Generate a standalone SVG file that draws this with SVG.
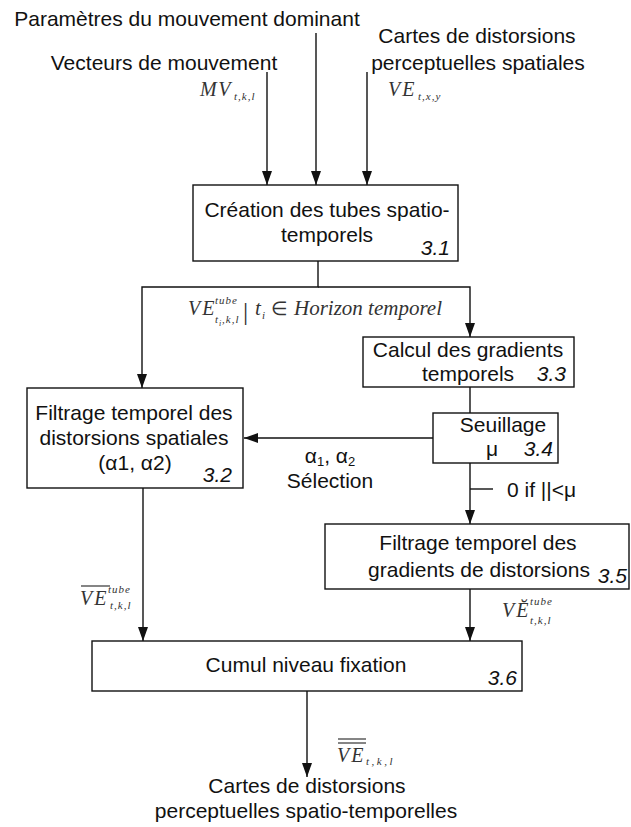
<svg xmlns="http://www.w3.org/2000/svg" width="631" height="827" viewBox="0 0 631 827">
<style>
  .t { font-family: "Liberation Sans", Arial, sans-serif; font-size: 21px; fill: #111; }
  .c { text-anchor: middle; }
  .num { font-family: "Liberation Sans", Arial, sans-serif; font-size: 21px; font-style: italic; fill: #111; text-anchor: end; }
  .box { fill: #fff; stroke: #111; stroke-width: 1.4; }
  .ln { fill: none; stroke: #111; stroke-width: 1.4; }
  .m { font-family: "Liberation Serif", "Times New Roman", serif; font-style: italic; fill: #333; font-size: 20px; letter-spacing: 2px; }
  .ms { font-family: "Liberation Serif", "Times New Roman", serif; font-style: italic; fill: #333; font-size: 11px; letter-spacing: 1px; }
  .mx { font-family: "Liberation Serif", "Times New Roman", serif; font-style: italic; fill: #333; font-size: 8px; }
  .mr { font-family: "Liberation Serif", "Times New Roman", serif; fill: #333; }
  .ol { stroke: #333; stroke-width: 1.2; }
</style>
<defs>
  <marker id="arr" markerUnits="userSpaceOnUse" markerWidth="14" markerHeight="10" refX="14" refY="5" orient="auto">
    <path d="M0,0 L14,5 L0,10 z" fill="#111"/>
  </marker>
</defs>

<g id="inputs">
  <g id="in-param"><text class="t c" x="187" y="26">Paramètres du mouvement dominant</text></g>
  <g id="in-vect"><text class="t c" x="164" y="70">Vecteurs de mouvement</text></g>
  <g id="in-cartes">
    <text class="t c" x="477" y="43">Cartes de distorsions</text>
    <text class="t c" x="478" y="70">perceptuelles spatiales</text>
  </g>
</g>

<g id="connectors">
  <line class="ln" x1="267" y1="72" x2="267" y2="185" marker-end="url(#arr)"/>
  <line class="ln" x1="316" y1="33" x2="316" y2="185" marker-end="url(#arr)"/>
  <line class="ln" x1="367" y1="72" x2="367" y2="185" marker-end="url(#arr)"/>
  <polyline class="ln" points="318,261 318,287 142,287 142,388" marker-end="url(#arr)"/>
  <polyline class="ln" points="318,287 470,287 470,337" marker-end="url(#arr)"/>
  <line class="ln" x1="470" y1="387" x2="470" y2="413"/>
  <line class="ln" x1="433" y1="438" x2="244" y2="438" marker-end="url(#arr)"/>
  <line class="ln" x1="470" y1="463" x2="470" y2="524" marker-end="url(#arr)"/>
  <line class="ln" x1="470" y1="489" x2="493" y2="489"/>
  <line class="ln" x1="143" y1="488" x2="143" y2="641" marker-end="url(#arr)"/>
  <line class="ln" x1="470" y1="589" x2="470" y2="641" marker-end="url(#arr)"/>
  <line class="ln" x1="307" y1="691" x2="307" y2="777" marker-end="url(#arr)"/>
</g>

<g id="edge-labels">
  <g id="lbl-mv">
    <text class="m" x="200" y="96" style="font-size:20px;letter-spacing:1.5px">MV</text>
    <text class="ms" x="234" y="100" style="letter-spacing:1px">t,k,l</text>
  </g>
  <g id="lbl-ve">
    <text class="m" x="388" y="96" style="font-size:20px;letter-spacing:2px">VE</text>
    <text class="ms" x="418" y="100" style="letter-spacing:1px">t,x,y</text>
  </g>
  <g id="lbl-tube">
    <text class="m" x="188" y="315">VE</text>
    <text class="ms" x="215" y="304">tube</text>
    <text class="ms" x="215" y="323">t</text>
    <text class="mx" x="219" y="326">i</text>
    <text class="ms" x="222" y="323">,k,l</text>
    <text class="mr" x="243" y="320" style="font-size:26px">|</text>
    <text class="m" x="255" y="315" style="font-size:21px;letter-spacing:0">t</text>
    <text class="ms" x="262" y="319">i</text>
    <text class="mr" x="271" y="315" style="font-size:19px">∈</text>
    <text class="m" x="294" y="315" style="font-size:21px;letter-spacing:0">Horizon temporel</text>
  </g>
  <g id="lbl-spat">
    <line class="ol" x1="81" y1="586" x2="110" y2="586"/>
    <text class="m" x="80" y="605">VE</text>
    <text class="ms" x="108" y="593">tube</text>
    <text class="ms" x="110" y="609">t,k,l</text>
  </g>
  <g id="lbl-sel">
    <text class="t c" x="330" y="463">α<tspan font-size="13" dy="3">1</tspan><tspan dy="-3">, α</tspan><tspan font-size="13" dy="3">2</tspan></text>
    <text class="t c" x="330" y="488">Sélection</text>
  </g>
  <g id="lbl-seuil"><text class="t" x="507" y="497">0 if ||&lt;μ</text></g>
  <g id="lbl-grad">
    <text class="m" x="502" y="617">VĔ</text>
    <text class="ms" x="530" y="605">tube</text>
    <text class="ms" x="530" y="624">t,k,l</text>
  </g>
  <g id="lbl-cumul">
    <line class="ol" x1="338" y1="739" x2="366" y2="739"/>
    <line class="ol" x1="338" y1="743" x2="366" y2="743"/>
    <text class="m" x="337" y="762">VE</text>
    <text class="ms" x="366" y="765" style="letter-spacing:2.5px">t,k,l</text>
  </g>
</g>

<g id="n31">
  <rect class="box" x="193" y="185" width="265" height="76"/>
  <text class="t c" x="327" y="217">Création des tubes spatio-</text>
  <text class="t c" x="327" y="242">temporels</text>
  <text class="num" x="450" y="255">3.1</text>
</g>

<g id="n32">
  <rect class="box" x="27" y="388" width="216" height="100"/>
  <text class="t c" x="134" y="420">Filtrage temporel des</text>
  <text class="t c" x="134" y="445">distorsions spatiales</text>
  <text class="t c" x="135" y="470">(α1, α2)</text>
  <text class="num" x="232" y="482">3.2</text>
</g>

<g id="n33">
  <rect class="box" x="363" y="337" width="211" height="50"/>
  <text class="t c" x="468" y="357">Calcul des gradients</text>
  <text class="t c" x="468" y="381">temporels</text>
  <text class="num" x="566" y="381">3.3</text>
</g>

<g id="n34">
  <rect class="box" x="433" y="413" width="125" height="50"/>
  <text class="t c" x="503" y="432">Seuillage</text>
  <text class="t" x="486" y="456">μ</text>
  <text class="num" x="553" y="456">3.4</text>
</g>

<g id="n35">
  <rect class="box" x="325" y="524" width="304" height="65"/>
  <text class="t c" x="478" y="550">Filtrage temporel des</text>
  <text class="t c" x="479" y="577">gradients de distorsions</text>
  <text class="num" x="627" y="583">3.5</text>
</g>

<g id="n36">
  <rect class="box" x="92" y="641" width="430" height="50"/>
  <text class="t c" x="306" y="672">Cumul niveau fixation</text>
  <text class="num" x="517" y="685">3.6</text>
</g>

<g id="output">
  <text class="t c" x="307" y="793">Cartes de distorsions</text>
  <text class="t c" x="306" y="818">perceptuelles spatio-temporelles</text>
</g>
</svg>
